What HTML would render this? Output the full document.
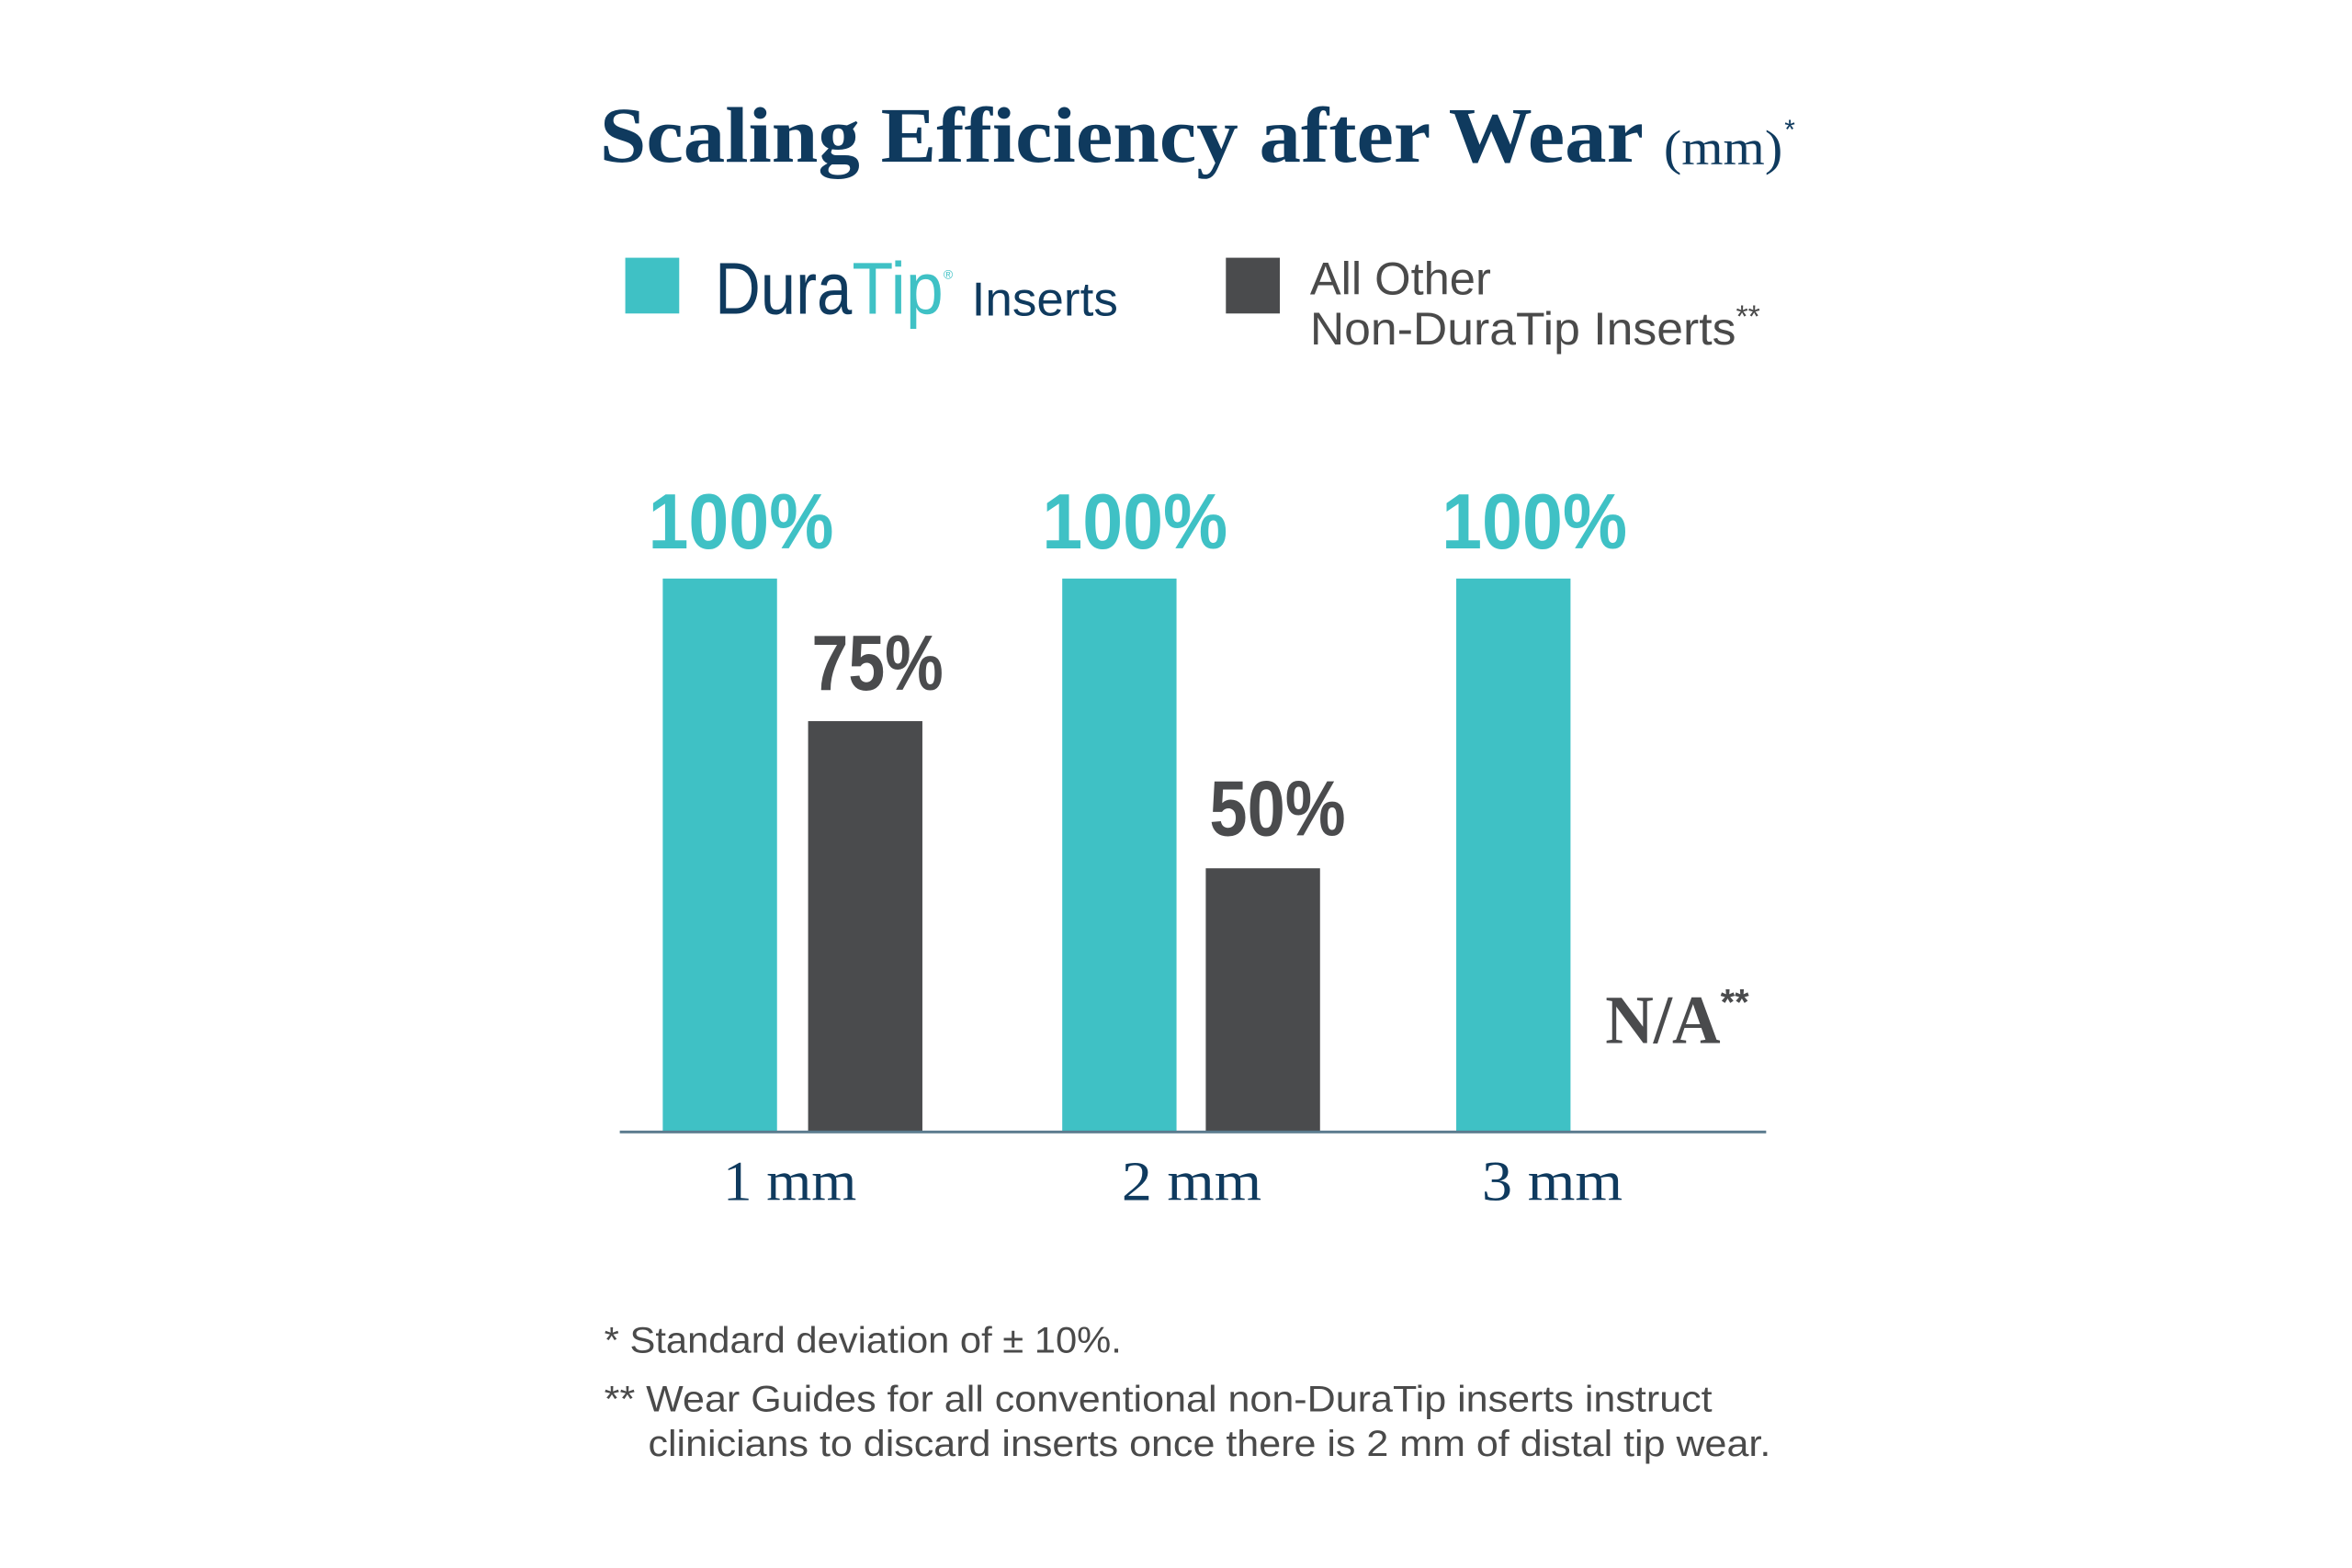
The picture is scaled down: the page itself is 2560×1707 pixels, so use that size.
<!DOCTYPE html>
<html><head><meta charset="utf-8"><style>
html,body{margin:0;padding:0;background:#fff;}
body{width:2560px;height:1707px;position:relative;overflow:hidden;}
svg{position:absolute;left:0;top:0;}
</style></head><body>
<svg width="2560" height="1707" viewBox="0 0 2560 1707" xmlns="http://www.w3.org/2000/svg">
<g transform="scale(0.995)">
<text x="656" y="177" font-family="Liberation Serif, serif" font-weight="bold" font-size="86" fill="#0f3a5e" textLength="1142" lengthAdjust="spacingAndGlyphs">Scaling Efficiency after Wear</text>
<text x="1820" y="180" font-family="Liberation Serif, serif" font-size="54" fill="#0f3a5e" textLength="130" lengthAdjust="spacingAndGlyphs">(mm)</text>
<text x="1952" y="152" font-family="Liberation Sans, sans-serif" font-size="30" fill="#0f3a5e">*</text>

<rect x="684" y="282" width="59" height="61" fill="#3fc1c5"/>
<text x="782" y="343" font-family="Liberation Sans, sans-serif" font-size="80" fill="#0f3a5e" textLength="150" lengthAdjust="spacingAndGlyphs">Dura</text>
<text x="932" y="343" font-family="Liberation Sans, sans-serif" font-size="80" fill="#3fc1c5" textLength="100" lengthAdjust="spacingAndGlyphs">Tip</text>
<text x="1032" y="305" font-family="Liberation Sans, sans-serif" font-size="14" fill="#3fc1c5">®</text>
<text x="1063" y="345" font-family="Liberation Sans, sans-serif" font-size="52" fill="#0f3a5e" textLength="160" lengthAdjust="spacingAndGlyphs">Inserts</text>

<rect x="1341" y="282" width="59" height="61" fill="#4a4b4d"/>
<text x="1433" y="322" font-family="Liberation Sans, sans-serif" font-size="50" fill="#4a4a4a" textLength="198" lengthAdjust="spacingAndGlyphs">All Other</text>
<text x="1433" y="377" font-family="Liberation Sans, sans-serif" font-size="50" fill="#4a4a4a" textLength="466" lengthAdjust="spacingAndGlyphs">Non-DuraTip Inserts</text>
<text x="1899" y="358" font-family="Liberation Sans, sans-serif" font-size="34" fill="#4a4a4a">**</text>

<rect x="725" y="633" width="125" height="606" fill="#3fc1c5"/>
<rect x="884" y="789" width="125" height="450" fill="#4a4b4d"/>
<rect x="1162" y="633" width="125" height="606" fill="#3fc1c5"/>
<rect x="1319" y="950" width="125" height="289" fill="#4a4b4d"/>
<rect x="1593" y="633" width="125" height="606" fill="#3fc1c5"/>
<rect x="678" y="1237" width="1254" height="3" fill="#5b7b8e"/>

<g font-family="Liberation Sans, sans-serif" font-weight="bold" font-size="86">
<text x="709" y="600" fill="#3fc1c5" textLength="203" lengthAdjust="spacingAndGlyphs">100%</text>
<text x="1140" y="600" fill="#3fc1c5" textLength="203" lengthAdjust="spacingAndGlyphs">100%</text>
<text x="1577" y="600" fill="#3fc1c5" textLength="203" lengthAdjust="spacingAndGlyphs">100%</text>
<text x="888" y="755" fill="#4a4b4d" textLength="144" lengthAdjust="spacingAndGlyphs">75%</text>
<text x="1323" y="914" fill="#4a4b4d" textLength="149" lengthAdjust="spacingAndGlyphs">50%</text>
</g>
<text x="1756" y="1141" font-family="Liberation Serif, serif" font-weight="bold" font-size="76" fill="#4a4b4d" textLength="126" lengthAdjust="spacingAndGlyphs">N/A</text>
<text x="1882" y="1110" font-family="Liberation Sans, sans-serif" font-weight="bold" font-size="40" fill="#4a4b4d">**</text>

<g font-family="Liberation Serif, serif" font-size="62" fill="#0f3a5e">
<text x="791" y="1313" textLength="146" lengthAdjust="spacingAndGlyphs">1 mm</text>
<text x="1227" y="1313" textLength="153" lengthAdjust="spacingAndGlyphs">2 mm</text>
<text x="1621" y="1313" textLength="154" lengthAdjust="spacingAndGlyphs">3 mm</text>
</g>

<g font-family="Liberation Sans, sans-serif" font-size="40" fill="#4a4a4a">
<text x="661" y="1480" textLength="566" lengthAdjust="spacingAndGlyphs">* Standard deviation of ± 10%.</text>
<text x="661" y="1544" textLength="1212" lengthAdjust="spacingAndGlyphs">** Wear Guides for all conventional non-DuraTip inserts instruct</text>
<text x="709" y="1593" textLength="1228" lengthAdjust="spacingAndGlyphs">clinicians to discard inserts once there is 2 mm of distal tip wear.</text>
</g>
</g>
</svg>
</body></html>
